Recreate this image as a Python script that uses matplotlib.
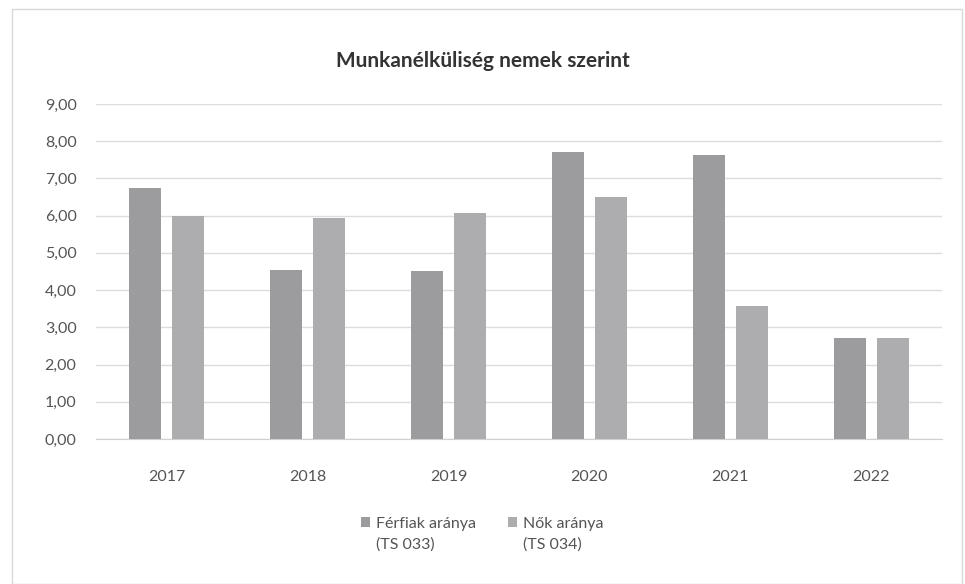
import matplotlib.pyplot as plt
import numpy as np
from matplotlib.patches import Rectangle
from matplotlib.container import BarContainer
from matplotlib.legend_handler import HandlerPatch, update_from_first_child

plt.rcParams['font.family'] = ['Lato', 'DejaVu Sans']

years = ['2017', '2018', '2019', '2020', '2021', '2022']
ferfiak = [6.73, 4.55, 4.50, 7.72, 7.63, 2.71]
nok = [5.98, 5.93, 6.08, 6.51, 3.57, 2.72]
yticks = [0, 1, 2, 3, 4, 5, 6, 7, 8, 9]

fig = plt.figure(figsize=(9.65, 5.84), dpi=100)
ax = fig.add_axes([0.0995, 0.2483, 0.8765, 0.5737])

x = np.arange(len(years))
w = 0.227
ax.bar(x - 0.15, ferfiak, width=w, color='#9c9c9e', label='Férfiak aránya\n(TS 033)', zorder=3)
ax.bar(x + 0.15, nok, width=w, color='#adadaf', label='Nők aránya\n(TS 034)', zorder=3)

ax.set_xlim(-0.5, len(years) - 0.5)
ax.set_ylim(0, 9)
ax.set_yticks(yticks)
ax.set_yticklabels([f'{v:.2f}'.replace('.', ',') for v in yticks], fontsize=11.5, color='#555555')
ax.set_xticks(x)
ax.set_xticklabels(years, fontsize=11.5, color='#555555')
ax.tick_params(axis='x', length=0, pad=22)
ax.tick_params(axis='y', length=0, pad=14)
ax.grid(axis='y', color='#dcdcdc', linewidth=1, zorder=0)
for s in ['top', 'right', 'left']:
    ax.spines[s].set_visible(False)
ax.spines['bottom'].set_color('#d0d0d0')

fig.text(0.5, 0.895, 'Munkanélküliség nemek szerint', ha='center', va='center',
         fontsize=15, fontweight='bold', color='#333333')


# square marker next to the first line of the label
def top_square(legend, orig_handle, xdescent, ydescent, width, height, fontsize):
    return Rectangle((-xdescent, -ydescent + 0.75 * fontsize), width, height)


leg = fig.legend(loc='center', bbox_to_anchor=(0.5, 0.085), ncol=2, frameon=False,
                 fontsize=11.5, handlelength=0.55, handleheight=0.55, handletextpad=0.4,
                 columnspacing=2.0,
                 handler_map={BarContainer: HandlerPatch(patch_func=top_square,
                                                         update_func=update_from_first_child)})
for t in leg.get_texts():
    t.set_color('#555555')
    t.set_linespacing(1.5)

fig.patches.append(Rectangle((0.012, 0.0), 0.985, 0.985, transform=fig.transFigure,
                             fill=False, edgecolor='#d8d8d8', linewidth=1))

plt.savefig('out.png', dpi=100, facecolor='white')
